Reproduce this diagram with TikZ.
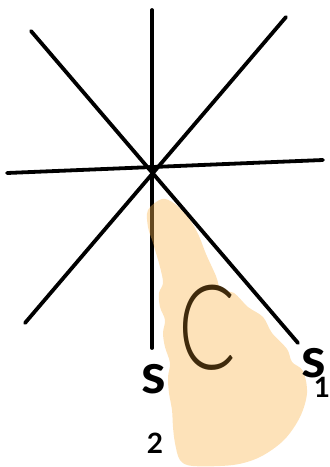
\documentclass[tikz,border=0pt]{standalone}
\usepackage{fontspec}
\IfFontExistsTF{Lato Light}{\newfontfamily\cfont{Lato Light}}{\newfontfamily\cfont{Lato}}
\newfontfamily\sfont{Lato}
\definecolor{peach}{RGB}{250,182,80}
\definecolor{cbrown}{RGB}{63,42,12}
\tikzset{
  mirror/.style={line width=3.8pt, line cap=round, black},
  chamber/.style={fill=peach, fill opacity=0.4, draw=none},
  lbl/.style={inner sep=0pt, font=\sfont\bfseries\fontsize{56}{56}\selectfont},
  clbl/.style={inner sep=0pt, text=cbrown, xscale=0.72, font=\cfont\fontsize{118}{118}\selectfont}
}
\newcommand{\subdig}[1]{{\sfont\bfseries\fontsize{28}{28}\selectfont #1}}
\begin{document}
\begin{tikzpicture}[x=1pt,y=-1pt]
\useasboundingbox (0,0) rectangle (330,467);
\coordinate (vT) at (152,10);
\coordinate (vB) at (152,348);
\coordinate (hL) at (7,173);
\coordinate (hR) at (323,160);
\coordinate (dTL) at (31,31);
\coordinate (dBR) at (298,343);
\coordinate (aTR) at (286,17);
\coordinate (aBL) at (25,323);
\draw[mirror] (vT) -- (vB);
\draw[mirror] (hL) -- (hR);
\draw[mirror] (dTL) -- (dBR);
\draw[mirror] (aTR) -- (aBL);
\fill[chamber] plot[smooth cycle, tension=0.55] coordinates {
 (162,199) (175,204) (190,220) (199,236) (206,254) (216,276) (221,290)
 (234,293) (248,307) (263,317) (272,333) (287,349) (292,362) (303,371)
 (307,393) (300,417) (284,440) (260,457) (233,465) (193,466) (180,460)
 (175,443) (173,427) (172,410) (169,393) (168,377) (170,363) (165,347)
 (163,333) (165,320) (160,307) (159,293) (163,283) (160,267) (153,243)
 (148,227) (148,210)
};
\node[clbl] (C) at (207,328) {C};
\node[lbl, anchor=north west] (s1) at (301,348) {s\kern-12pt\raisebox{-20pt}{\subdig{1}}};
\node[lbl, anchor=north west] (s2) at (141,364) {s\kern-19pt\raisebox{-60pt}{\subdig{2}}};
\end{tikzpicture}
\end{document}
